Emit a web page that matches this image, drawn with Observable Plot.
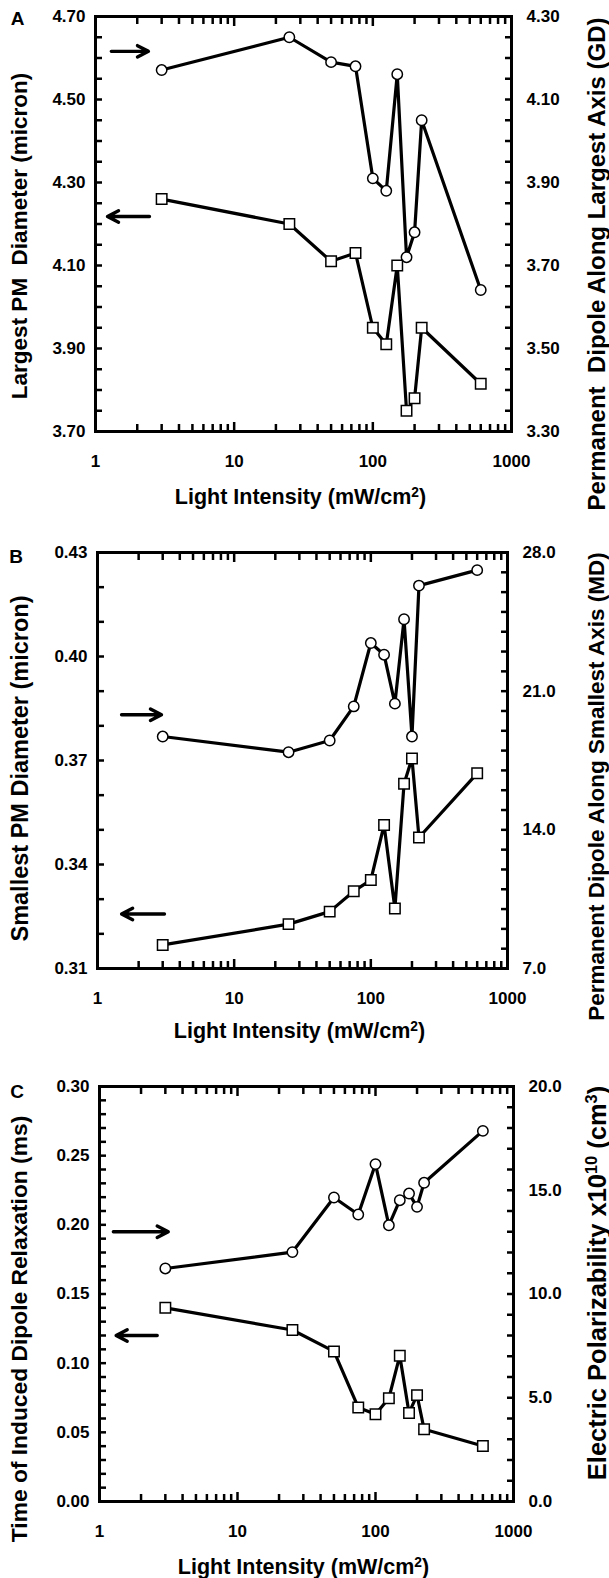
<!DOCTYPE html>
<html><head><meta charset="utf-8">
<script src="https://cdn.jsdelivr.net/npm/d3@7"></script>
<script src="https://cdn.jsdelivr.net/npm/@observablehq/plot@0.6"></script>
<style>
body{margin:0;background:#fff}
svg{display:block}
svg text{white-space:pre}
</style>
</head><body><div id="chart"></div>
<script>
// ---- data ----
const intensity = [3, 25, 50, 75, 100, 125, 150, 175, 200, 225, 600];

// Panel A
const largestDiameter = [4.26, 4.20, 4.11, 4.13, 3.95, 3.91, 4.10, 3.75, 3.78, 3.95, 3.815];
const dipoleLargest   = [4.171, 4.250, 4.190, 4.180, 3.910, 3.880, 4.161, 3.720, 3.780, 4.050, 3.641];
// Panel B
const smallestDiameter = [0.3168, 0.3228, 0.3264, 0.3323, 0.3355, 0.3514, 0.3273, 0.3633, 0.3706, 0.3478, 0.3663];
const dipoleSmallest   = [18.71, 17.92, 18.51, 20.23, 23.43, 22.84, 20.37, 24.63, 18.71, 26.33, 27.11];
// Panel C
const relaxationTime = [0.140, 0.124, 0.1085, 0.068, 0.063, 0.0747, 0.1054, 0.064, 0.0769, 0.0522, 0.0401];
const polarizability = [11.23, 12.02, 14.65, 13.83, 16.26, 13.31, 14.52, 14.84, 14.20, 15.36, 17.86];

// tick labels
const xTickLabels = [1, 10, 100, 1000];
const leftLabelsA  = [3.70, 3.90, 4.10, 4.30, 4.50, 4.70];
const rightLabelsA = [3.30, 3.50, 3.70, 3.90, 4.10, 4.30];
const leftLabelsB  = [0.31, 0.34, 0.37, 0.40, 0.43];
const rightLabelsB = [7.0, 14.0, 21.0, 28.0];
const leftLabelsC  = [0.00, 0.05, 0.10, 0.15, 0.20, 0.25, 0.30];
const rightLabelsC = [0.0, 5.0, 10.0, 15.0, 20.0];

// direction arrows (data coordinates: x intensity, y left-axis units)
const arrowsA = [{x1: 1.30, x2: 2.41, y: 4.616}, {x1: 2.45, x2: 1.22, y: 4.218}];
const arrowsB = [{x1: 1.50, x2: 2.94, y: 0.3832}, {x1: 3.09, x2: 1.50, y: 0.3257}];
const arrowsC = [{x1: 1.26, x2: 3.15, y: 0.195}, {x1: 2.62, x2: 1.32, y: 0.120}];

const xTitle = "Light Intensity (mW/cm^{2})";

// ---- drawing ----
const xMinorTicks = [];
for (const dec of [1, 10, 100]) for (let k = 2; k <= 9; k++) xMinorTicks.push(k * dec);

function stepTicks(a, b, s) {
  const n = Math.round((b - a) / s);
  return d3.range(n + 1).map(i => a + i * s);
}

function applySup(svg) {
  svg.querySelectorAll("text").forEach(t => {
    const s = t.textContent;
    if (!s.includes("^{")) return;
    const parts = s.split(/(\^\{[^}]*\})/).filter(p => p.length);
    while (t.firstChild) t.removeChild(t.firstChild);
    for (const p of parts) {
      const ts = document.createElementNS("http://www.w3.org/2000/svg", "tspan");
      if (p.startsWith("^{")) {
        ts.textContent = p.slice(2, -1);
        ts.setAttribute("baseline-shift", "super");
        ts.setAttribute("font-size", "64%");
      } else ts.textContent = p;
      t.appendChild(ts);
    }
  });
}

function panel(cfg) {
  const [y0, y1] = cfg.leftDomain, [r0, r1] = cfg.rightDomain;
  const toLeft = v => y0 + (v - r0) * (y1 - y0) / (r1 - r0);
  const fromLeft = v => r0 + (v - y0) * (r1 - r0) / (y1 - y0);
  const rows = intensity.map((x, i) => ({x, sq: cfg.squares[i], ci: toLeft(cfg.circles[i])}));
  const leftMinor = stepTicks(y0, y1, cfg.leftStep);
  const rightMinor = stepTicks(r0, r1, cfg.rightStep).map(toLeft);
  const st = {stroke: "black", strokeWidth: 2.5, fill: "none", label: null};
  const tx = {tickSize: 0, fontSize: 17, fill: "black", label: null};
  const svg = Plot.plot({
    width: 609, height: cfg.height,
    marginTop: cfg.mt, marginBottom: cfg.mb, marginLeft: cfg.ml, marginRight: cfg.mr,
    x: {type: "log", domain: [1, 1000]},
    y: {domain: cfg.leftDomain},
    style: {fontFamily: "'Liberation Sans', Arial, Helvetica, sans-serif", fontWeight: "bold", fontSize: "17px", color: "black", background: "white", overflow: "visible"},
    marks: [
      Plot.frame({stroke: "black", strokeWidth: 3}),
      // inward ticks
      Plot.axisX({anchor: "bottom", ticks: xMinorTicks, tickSize: -7, ...st}),
      Plot.axisX({anchor: "bottom", ticks: xTickLabels, tickSize: -9, ...st}),
      Plot.axisX({anchor: "top", ticks: xMinorTicks, tickSize: -7, ...st}),
      Plot.axisX({anchor: "top", ticks: xTickLabels, tickSize: -9, ...st}),
      Plot.axisY({anchor: "left", ticks: leftMinor, tickSize: 7, dx: 7, ...st}),
      Plot.axisY({anchor: "right", ticks: rightMinor, tickSize: 7, dx: -7, ...st}),
      // tick labels
      Plot.axisX({anchor: "bottom", ticks: xTickLabels, tickFormat: d => String(d), tickPadding: 23, ...tx}),
      Plot.axisY({anchor: "left", ticks: cfg.leftLabels, tickFormat: d => d.toFixed(2), tickPadding: 10, ...tx}),
      Plot.axisY({anchor: "right", ticks: cfg.rightLabels.map(toLeft), tickFormat: d => fromLeft(d).toFixed(cfg.rightDigits), tickPadding: 15, ...tx}),
      Plot.line(rows, {x: "x", y: "ci", stroke: "black", strokeWidth: 3.2}),
      Plot.line(rows, {x: "x", y: "sq", stroke: "black", strokeWidth: 3.2}),
      Plot.dot(rows, {x: "x", y: "ci", r: 5.2, fill: "white", stroke: "black", strokeWidth: 1.5}),
      Plot.dot(rows, {x: "x", y: "sq", symbol: "square", r: 5.9, fill: "white", stroke: "black", strokeWidth: 1.5}),
      Plot.arrow(cfg.arrows, {x1: "x1", x2: "x2", y1: "y", y2: "y", stroke: "black", strokeWidth: 3.4, headLength: 5.5, headAngle: 55}),
      Plot.text([cfg.letter], {text: d => d, frameAnchor: "top-left", textAnchor: "middle", lineAnchor: "middle", dx: cfg.letterDx, dy: cfg.letterDy, fontSize: 19, fill: "black"}),
      Plot.text([cfg.leftTitle], {text: d => d, frameAnchor: "left", textAnchor: "middle", lineAnchor: "middle", rotate: -90, dx: cfg.ltDx, dy: cfg.ltDy, fontSize: cfg.ltSize, fill: "black"}),
      Plot.text([cfg.rightTitle], {text: d => d, frameAnchor: "right", textAnchor: "middle", lineAnchor: "middle", rotate: -90, dx: cfg.rtDx, dy: cfg.rtDy, fontSize: cfg.rtSize, fill: "black"}),
      Plot.text([xTitle], {text: d => d, frameAnchor: "bottom", textAnchor: "middle", lineAnchor: "middle", dy: cfg.xtDy, dx: -3, fontSize: 21.5, fill: "black"})
    ]
  });
  applySup(svg);
  return svg;
}

const root = document.getElementById("chart");

root.appendChild(panel({
  height: 536, mt: 16, mb: 105, ml: 95, mr: 98,
  leftDomain: [3.70, 4.70], rightDomain: [3.30, 4.30],
  leftStep: 0.05, rightStep: 0.05, rightDigits: 2,
  leftLabels: leftLabelsA, rightLabels: rightLabelsA,
  squares: largestDiameter, circles: dipoleLargest, arrows: arrowsA,
  letter: "A", letterDx: -78, letterDy: 2.5,
  leftTitle: "Largest PM  Diameter (micron)", ltDx: -76, ltDy: 12, ltSize: 22.5,
  rightTitle: "Permanent  Dipole Along Largest Axis (GD)", rtDx: 86, rtDy: 40, rtSize: 24,
  xtDy: 66
}));

root.appendChild(panel({
  height: 536, mt: 16, mb: 104, ml: 97, mr: 102,
  leftDomain: [0.31, 0.43], rightDomain: [7, 28],
  leftStep: 0.01, rightStep: 1, rightDigits: 1,
  leftLabels: leftLabelsB, rightLabels: rightLabelsB,
  squares: smallestDiameter, circles: dipoleSmallest, arrows: arrowsB,
  letter: "B", letterDx: -81.5, letterDy: 4,
  leftTitle: "Smallest PM Diameter (micron)", ltDx: -77.5, ltDy: 8, ltSize: 23.5,
  rightTitle: "Permanent Dipole Along Smallest Axis (MD)", rtDx: 89, rtDy: 26, rtSize: 22.5,
  xtDy: 63
}));

root.appendChild(panel({
  height: 506, mt: 14, mb: 77, ml: 99, mr: 96,
  leftDomain: [0, 0.30], rightDomain: [0, 20],
  leftStep: 0.01, rightStep: 1, rightDigits: 1,
  leftLabels: leftLabelsC, rightLabels: rightLabelsC,
  squares: relaxationTime, circles: polarizability, arrows: arrowsC,
  letter: "C", letterDx: -82.5, letterDy: 5,
  leftTitle: "Time of Induced Dipole Relaxation (ms)", ltDx: -79.5, ltDy: 35, ltSize: 22.8,
  rightTitle: "Electric Polarizability x10^{10} (cm^{3})", rtDx: 84, rtDy: -11, rtSize: 25.5,
  xtDy: 66
}));
</script>
</body></html>
